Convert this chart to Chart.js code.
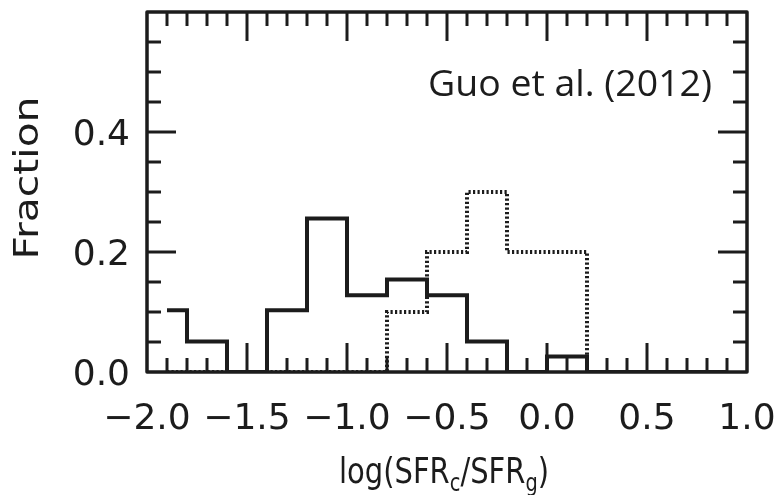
<!DOCTYPE html>
<html>
<head>
<meta charset="utf-8">
<script src="https://cdn.jsdelivr.net/npm/chart.js@4"></script>
<style>html,body{margin:0;padding:0;background:#fff}canvas{display:block}</style>
</head>
<body>
<canvas id="c" width="780" height="495"></canvas>
<script>
// ---- data ----
const binCenters     = [-1.9, -1.7, -1.5, -1.3, -1.1, -0.9, -0.7, -0.5, -0.3, -0.1, 0.1, 0.3, 0.5, 0.7, 0.9];
const solidFraction  = [0.103, 0.051, 0, 0.103, 0.256, 0.128, 0.154, 0.128, 0.051, 0, 0.026, 0, 0, 0, 0];
const dottedFraction = [0, 0, 0, 0, 0, 0, 0.10, 0.20, 0.30, 0.20, 0.20, 0, 0, 0, 0];
const xTickValues = [-2.0, -1.5, -1.0, -0.5, 0.0, 0.5, 1.0];
const xTickLabels = ['\u22122.0', '\u22121.5', '\u22121.0', '\u22120.5', '0.0', '0.5', '1.0'];
const yTickValues = [0.0, 0.2, 0.4];
const yTickLabels = ['0.0', '0.2', '0.4'];
const xMinorStep = 0.1;
const yMinorStep = 0.05;
const yTitle = 'Fraction';
const xTitleParts = ['log(SFR', 'c', '/SFR', 'g', ')'];
const annotation = 'Guo et al. (2012)';

const INK = '#1c1c1c';
const TICK_FONT = '36px "DejaVu Sans"';

function drawRich(ctx, segs, x, y, align, targetWidth) {
  let total = 0;
  const widths = segs.map(s => { ctx.font = s.font; const w = ctx.measureText(s.t).width; total += w; return w; });
  const sc = targetWidth ? targetWidth / total : 1;
  ctx.save();
  ctx.translate(x, y);
  ctx.scale(sc, 1);
  let cur = align === 'center' ? -total / 2 : (align === 'right' ? -total : 0);
  ctx.textAlign = 'left';
  ctx.textBaseline = 'alphabetic';
  segs.forEach((s, i) => { ctx.font = s.font; ctx.fillText(s.t, cur, s.dy || 0); cur += widths[i]; });
  ctx.restore();
}

function seg(ctx, x1, y1, x2, y2) { ctx.beginPath(); ctx.moveTo(x1, y1); ctx.lineTo(x2, y2); ctx.stroke(); }

const framePlugin = {
  id: 'frame',
  afterDatasetsDraw(chart) {
    const ctx = chart.ctx;
    const xs = chart.scales.x, ys = chart.scales.y;
    const { left, right, top, bottom } = chart.chartArea;
    ctx.save();
    ctx.strokeStyle = INK;
    ctx.fillStyle = INK;
    // ticks
    ctx.lineWidth = 3;
    ctx.lineCap = 'butt';
    const nx = Math.round((xs.max - xs.min) / xMinorStep);
    for (let k = 1; k < nx; k++) {
      const v = xs.min + k * xMinorStep;
      const px = xs.getPixelForValue(v);
      const len = (k % 5 === 0) ? 29 : 14;
      seg(ctx, px, bottom, px, bottom - len);
      seg(ctx, px, top, px, top + len);
    }
    const ny = Math.round((ys.max - ys.min) / yMinorStep);
    for (let k = 1; k < ny; k++) {
      const v = ys.min + k * yMinorStep;
      const py = ys.getPixelForValue(v);
      const len = (k % 4 === 0) ? 29 : 14;
      seg(ctx, left, py, left + len, py);
      seg(ctx, right, py, right - len, py);
    }
    // frame
    ctx.lineWidth = 3.5;
    ctx.lineJoin = 'round';
    ctx.strokeRect(left, top, right - left, bottom - top);

    // tick labels
    ctx.font = TICK_FONT;
    ctx.textBaseline = 'alphabetic';
    ctx.textAlign = 'center';
    xTickValues.forEach((v, i) => ctx.fillText(xTickLabels[i], xs.getPixelForValue(v), 428.5));
    ctx.textAlign = 'right';
    yTickValues.forEach((v, i) => ctx.fillText(yTickLabels[i], 130, ys.getPixelForValue(v) + 13));

    // y title (rotated)
    ctx.save();
    ctx.translate(38, 178);
    ctx.rotate(-Math.PI / 2);
    drawRich(ctx, [{ t: yTitle, font: '34px "DejaVu Sans"' }], 0, 0, 'center', 163);
    ctx.restore();

    // x title with subscripts
    const big = '36px "DejaVu Sans"', small = '24px "DejaVu Sans"';
    drawRich(ctx, [
      { t: xTitleParts[0], font: big },
      { t: xTitleParts[1], font: small, dy: 8 },
      { t: xTitleParts[2], font: big },
      { t: xTitleParts[3], font: small, dy: 8 },
      { t: xTitleParts[4], font: big }
    ], 444, 483, 'center', 210);

    // annotation
    drawRich(ctx, [{ t: annotation, font: '36px "Open Sans"' }], 428, 96, 'left', 284);
    ctx.restore();
  }
};

new Chart(document.getElementById('c'), {
  type: 'line',
  data: {
    datasets: [
      {
        label: 'dotted',
        data: binCenters.map((x, i) => ({ x, y: dottedFraction[i] })),
        stepped: 'middle',
        borderColor: INK,
        borderWidth: 4,
        borderDash: [2.2, 2.3],
        borderCapStyle: 'butt',
        borderJoinStyle: 'miter',
        pointRadius: 0,
        fill: false,
        order: 0
      },
      {
        label: 'solid',
        data: binCenters.map((x, i) => ({ x, y: solidFraction[i] })),
        stepped: 'middle',
        borderColor: INK,
        borderWidth: 4,
        borderCapStyle: 'butt',
        borderJoinStyle: 'miter',
        pointRadius: 0,
        fill: false,
        order: 1
      }
    ]
  },
  options: {
    responsive: false,
    animation: false,
    devicePixelRatio: 1,
    layout: { padding: { top: 12, right: 33, bottom: 0, left: 0 } },
    plugins: { legend: { display: false }, tooltip: { enabled: false } },
    scales: {
      x: {
        type: 'linear', min: -2.0, max: 1.0,
        ticks: { display: false }, grid: { display: false }, border: { display: false },
        afterFit: s => { s.height = 123; }
      },
      y: {
        type: 'linear', min: 0, max: 0.6,
        ticks: { display: false }, grid: { display: false }, border: { display: false },
        afterFit: s => { s.width = 147; }
      }
    }
  },
  plugins: [framePlugin]
});
</script>
</body>
</html>
